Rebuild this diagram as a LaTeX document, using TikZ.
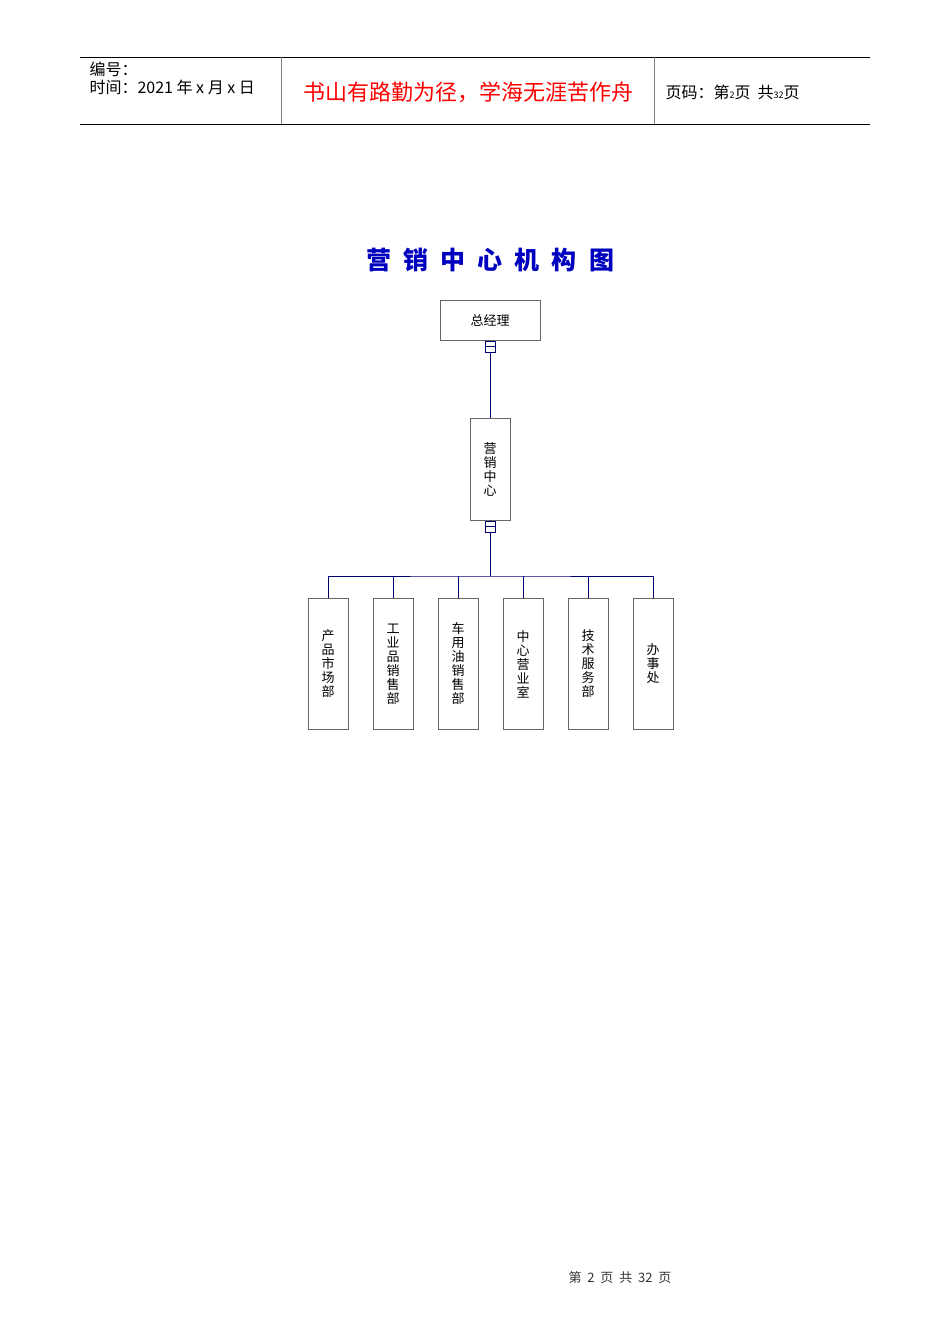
\documentclass[tikz,border=0pt]{standalone}
\usepackage{fontspec}
\newfontfamily\cjk{Noto Sans CJK SC}
\tikzset{
 box/.style={draw=black!60,fill=white,line width=0.8pt,inner sep=0pt,font=\cjk\fontsize{13}{14}\selectfont},
 vbox/.style={box,minimum width=40pt,minimum height=131pt,align=center},
 link/.style={draw=blue!45!black,line width=0.9pt},
 tick/.style={draw=blue!45!black,line width=0.8pt,fill=white,minimum width=10pt,minimum height=11pt,inner sep=0pt,path picture={\draw[blue!45!black] (path picture bounding box.west)--(path picture bounding box.east);}}
}
\begin{document}
\begin{tikzpicture}[x=1pt,y=-1pt]
\useasboundingbox (0,0) rectangle (950,1344);
% header
\draw[line width=0.8pt] (80,57)--(870,57) (80,124)--(870,124);
\draw[black!50,line width=0.8pt] (281,57)--(281,124) (654,57)--(654,124);
\node[anchor=west,font=\cjk\fontsize{16}{18}\selectfont,align=left] (hdr1) at (86,78) {编号：\\时间：2021 年 x 月 x 日};
\node[font=\cjk\fontsize{22}{24}\selectfont,text=red] (hdr2) at (468,92) {书山有路勤为径，学海无涯苦作舟};
\node[anchor=west,font=\cjk\fontsize{16}{18}\selectfont] (hdr3) at (662,92) {页码：第{\small 2}页\ \ 共{\small 32}页};
% title
\node[font=\cjk\bfseries\fontsize{25}{27}\selectfont,text=blue!75!black,inner sep=0pt] (title) at (490,260) {\makebox[248pt][s]{营\hfill 销\hfill 中\hfill 心\hfill 机\hfill 构\hfill 图}};
% nodes
\node[box,minimum width=100pt,minimum height=40pt] (gm) at (490,320) {总经理};
\node[box,minimum width=40pt,minimum height=102pt,align=center] (mc) at (490,469) {营\\销\\中\\心};
\node[tick] (t1) at (490,346.5) {};
\node[tick] (t2) at (490,526.5) {};
\draw[link] (t1.south)--(mc.north);
\coordinate (j) at (490,576);
\draw[link] (t2.south)--(j);
\foreach \x/\n/\t in {328/c1/产\\品\\市\\场\\部,393/c2/工\\业\\品\\销\\售\\部,458/c3/车\\用\\油\\销\\售\\部,523/c4/中\\心\\营\\业\\室,588/c5/技\\术\\服\\务\\部,653/c6/办\\事\\处}{
 \node[vbox] (\n) at (\x,664) {\t};
}
\draw[link] (c1.north)|-(j) -| (c6.north);
\foreach \n in {c2,c3,c4,c5}{\draw[link] (\n.north)--(\n.north|-j);}
% footer
\node[font=\cjk\fontsize{13}{14}\selectfont,text=black!80] (foot) at (620,1278) {第\ \ 2\ \ 页\ \ 共\ \ 32\ \ 页};
\end{tikzpicture}
\end{document}
